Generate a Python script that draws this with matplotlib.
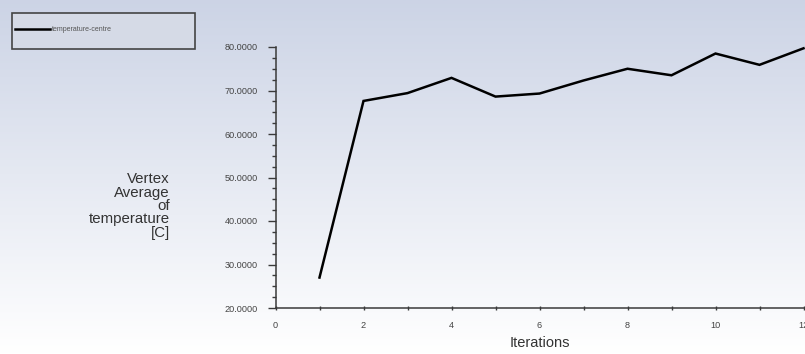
import numpy as np
import matplotlib
matplotlib.use("Agg")
import matplotlib.pyplot as plt
from matplotlib.ticker import MultipleLocator, FormatStrFormatter
from matplotlib.patches import Rectangle

iterations = [1, 2, 3, 4, 5, 6, 7, 8, 9, 10, 11, 12]
temperature = [27.0, 67.6, 69.4, 72.9, 68.6, 69.3, 72.3, 75.0, 73.5, 78.5, 75.9, 79.7]
series_label = "temperature-centre"

plt.rcParams['font.family'] = ['Liberation Sans', 'DejaVu Sans']

W, H = 805, 354
fig = plt.figure(figsize=(W / 100, H / 100), dpi=100)

# background gradient
bg = fig.add_axes([0, 0, 1, 1], zorder=-10)
bg.set_axis_off()
grad = np.linspace(0, 1, 256).reshape(-1, 1)
top = np.array([0.80, 0.83, 0.90])
bot = np.array([1.0, 1.0, 1.0])
img = top[None, None, :] * (1 - grad[:, :, None]) + bot[None, None, :] * grad[:, :, None]
bg.imshow(img, aspect='auto', extent=[0, 1, 0, 1])
bg.set_xlim(0, 1)
bg.set_ylim(0, 1)

x0, x12 = 275.5, 803.5
y80, y20 = 47, 308
ax = fig.add_axes([x0 / W, 1 - y20 / H, (x12 - x0) / W, (y20 - y80) / H])
ax.set_facecolor('none')
line, = ax.plot(iterations, temperature, color='black', lw=1.8, label=series_label,
                solid_joinstyle='miter', clip_on=False)
ax.set_xlim(0, 12)
ax.set_ylim(20, 80)
for s in ['top', 'right']:
    ax.spines[s].set_visible(False)
for s in ['left', 'bottom']:
    ax.spines[s].set_color('#3a3a3a')
    ax.spines[s].set_linewidth(1.1)

ax.yaxis.set_major_locator(MultipleLocator(10))
ax.yaxis.set_minor_locator(MultipleLocator(2.5))
ax.yaxis.set_major_formatter(FormatStrFormatter('%.4f'))
ax.xaxis.set_major_locator(MultipleLocator(2))
ax.xaxis.set_minor_locator(MultipleLocator(1))

ax.tick_params(axis='y', which='major', direction='out', length=6, width=1.0,
               color='#3a3a3a', labelsize=6.6, labelcolor='#444444', pad=7)
ax.tick_params(axis='y', which='minor', direction='out', length=3, width=1.0, color='#3a3a3a')
ax.tick_params(axis='x', which='both', direction='inout', length=3, width=1.0,
               color='#3a3a3a', labelsize=6.6, labelcolor='#444444', pad=8)

ax.set_xlabel('Iterations', fontsize=10.5, color='#333333', labelpad=4)

fig.text(170 / W, 1 - 206 / H, 'Vertex\nAverage\nof\ntemperature\n[C]', ha='right', va='center',
         fontsize=10.8, color='#333333', linespacing=0.95)

# legend box
frame = Rectangle((12 / W, 1 - 49 / H), 183 / W, 36 / H, transform=fig.transFigure,
                  facecolor='#d5dae6', edgecolor='#444444', linewidth=1.2, zorder=1)
fig.patches.append(frame)
leg = fig.legend(handles=[line], loc='center left', bbox_to_anchor=(15 / W, 1 - 29.5 / H),
                 fontsize=5.0, frameon=False, handlelength=5.0, handletextpad=0.3,
                 borderpad=0, borderaxespad=0)
leg.set_zorder(2)
for t in leg.get_texts():
    t.set_color('#555555')

fig.savefig('out.png', dpi=100)
